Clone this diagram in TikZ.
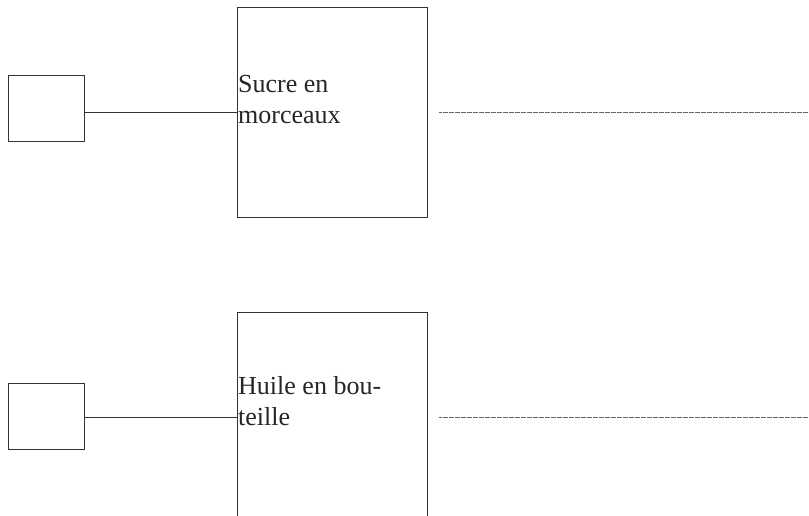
\documentclass[tikz,border=0pt]{standalone}
\usepackage{fontspec}
\setmainfont{Liberation Serif}
\usepackage{tikz}
\usepackage{xcolor}
\usetikzlibrary{positioning}

\tikzset{
    smallbox/.style={draw=black!80, line width=0.8pt, minimum width=76pt, minimum height=66pt, inner sep=0pt},
    bigbox/.style={draw=black!80, line width=0.8pt, minimum width=190pt, minimum height=210pt, inner sep=0pt},
    label/.style={font=\fontsize{26}{31}\selectfont, align=left, inner sep=0pt, text=black!85},
    link/.style={draw=black!80, line width=0.8pt},
    trail/.style={draw=black!60, line width=0.5pt, dash pattern=on 0.6pt off 0.6pt}
}

\begin{document}
\begin{tikzpicture}[x=1pt, y=-1pt]
    \useasboundingbox (0,0) rectangle (809,515);
    \clip (0,0) rectangle (809,515);

    % First row
    \node[smallbox] (s1) at (46.5,108.7) {};
    \node[bigbox] (b1) at (332.5,112) {};
    \node[label, anchor=base west] (t1) at (238,123) {Sucre en\\morceaux};
    \draw[link] (b1.west -| s1.east) -- (b1.west);
    \coordinate (e1) at (809,112);
    \draw[trail] ([xshift=11pt]b1.east) -- (e1);

    % Second row
    \node[smallbox] (s2) at (46.5,416.3) {};
    \node[bigbox] (b2) at (332.5,417) {};
    \node[label, anchor=base west] (t2) at (238,425) {Huile en bou-\\teille};
    \draw[link] (b2.west -| s2.east) -- (b2.west);
    \coordinate (e2) at (809,417);
    \draw[trail] ([xshift=11pt]b2.east) -- (e2);
\end{tikzpicture}
\end{document}
